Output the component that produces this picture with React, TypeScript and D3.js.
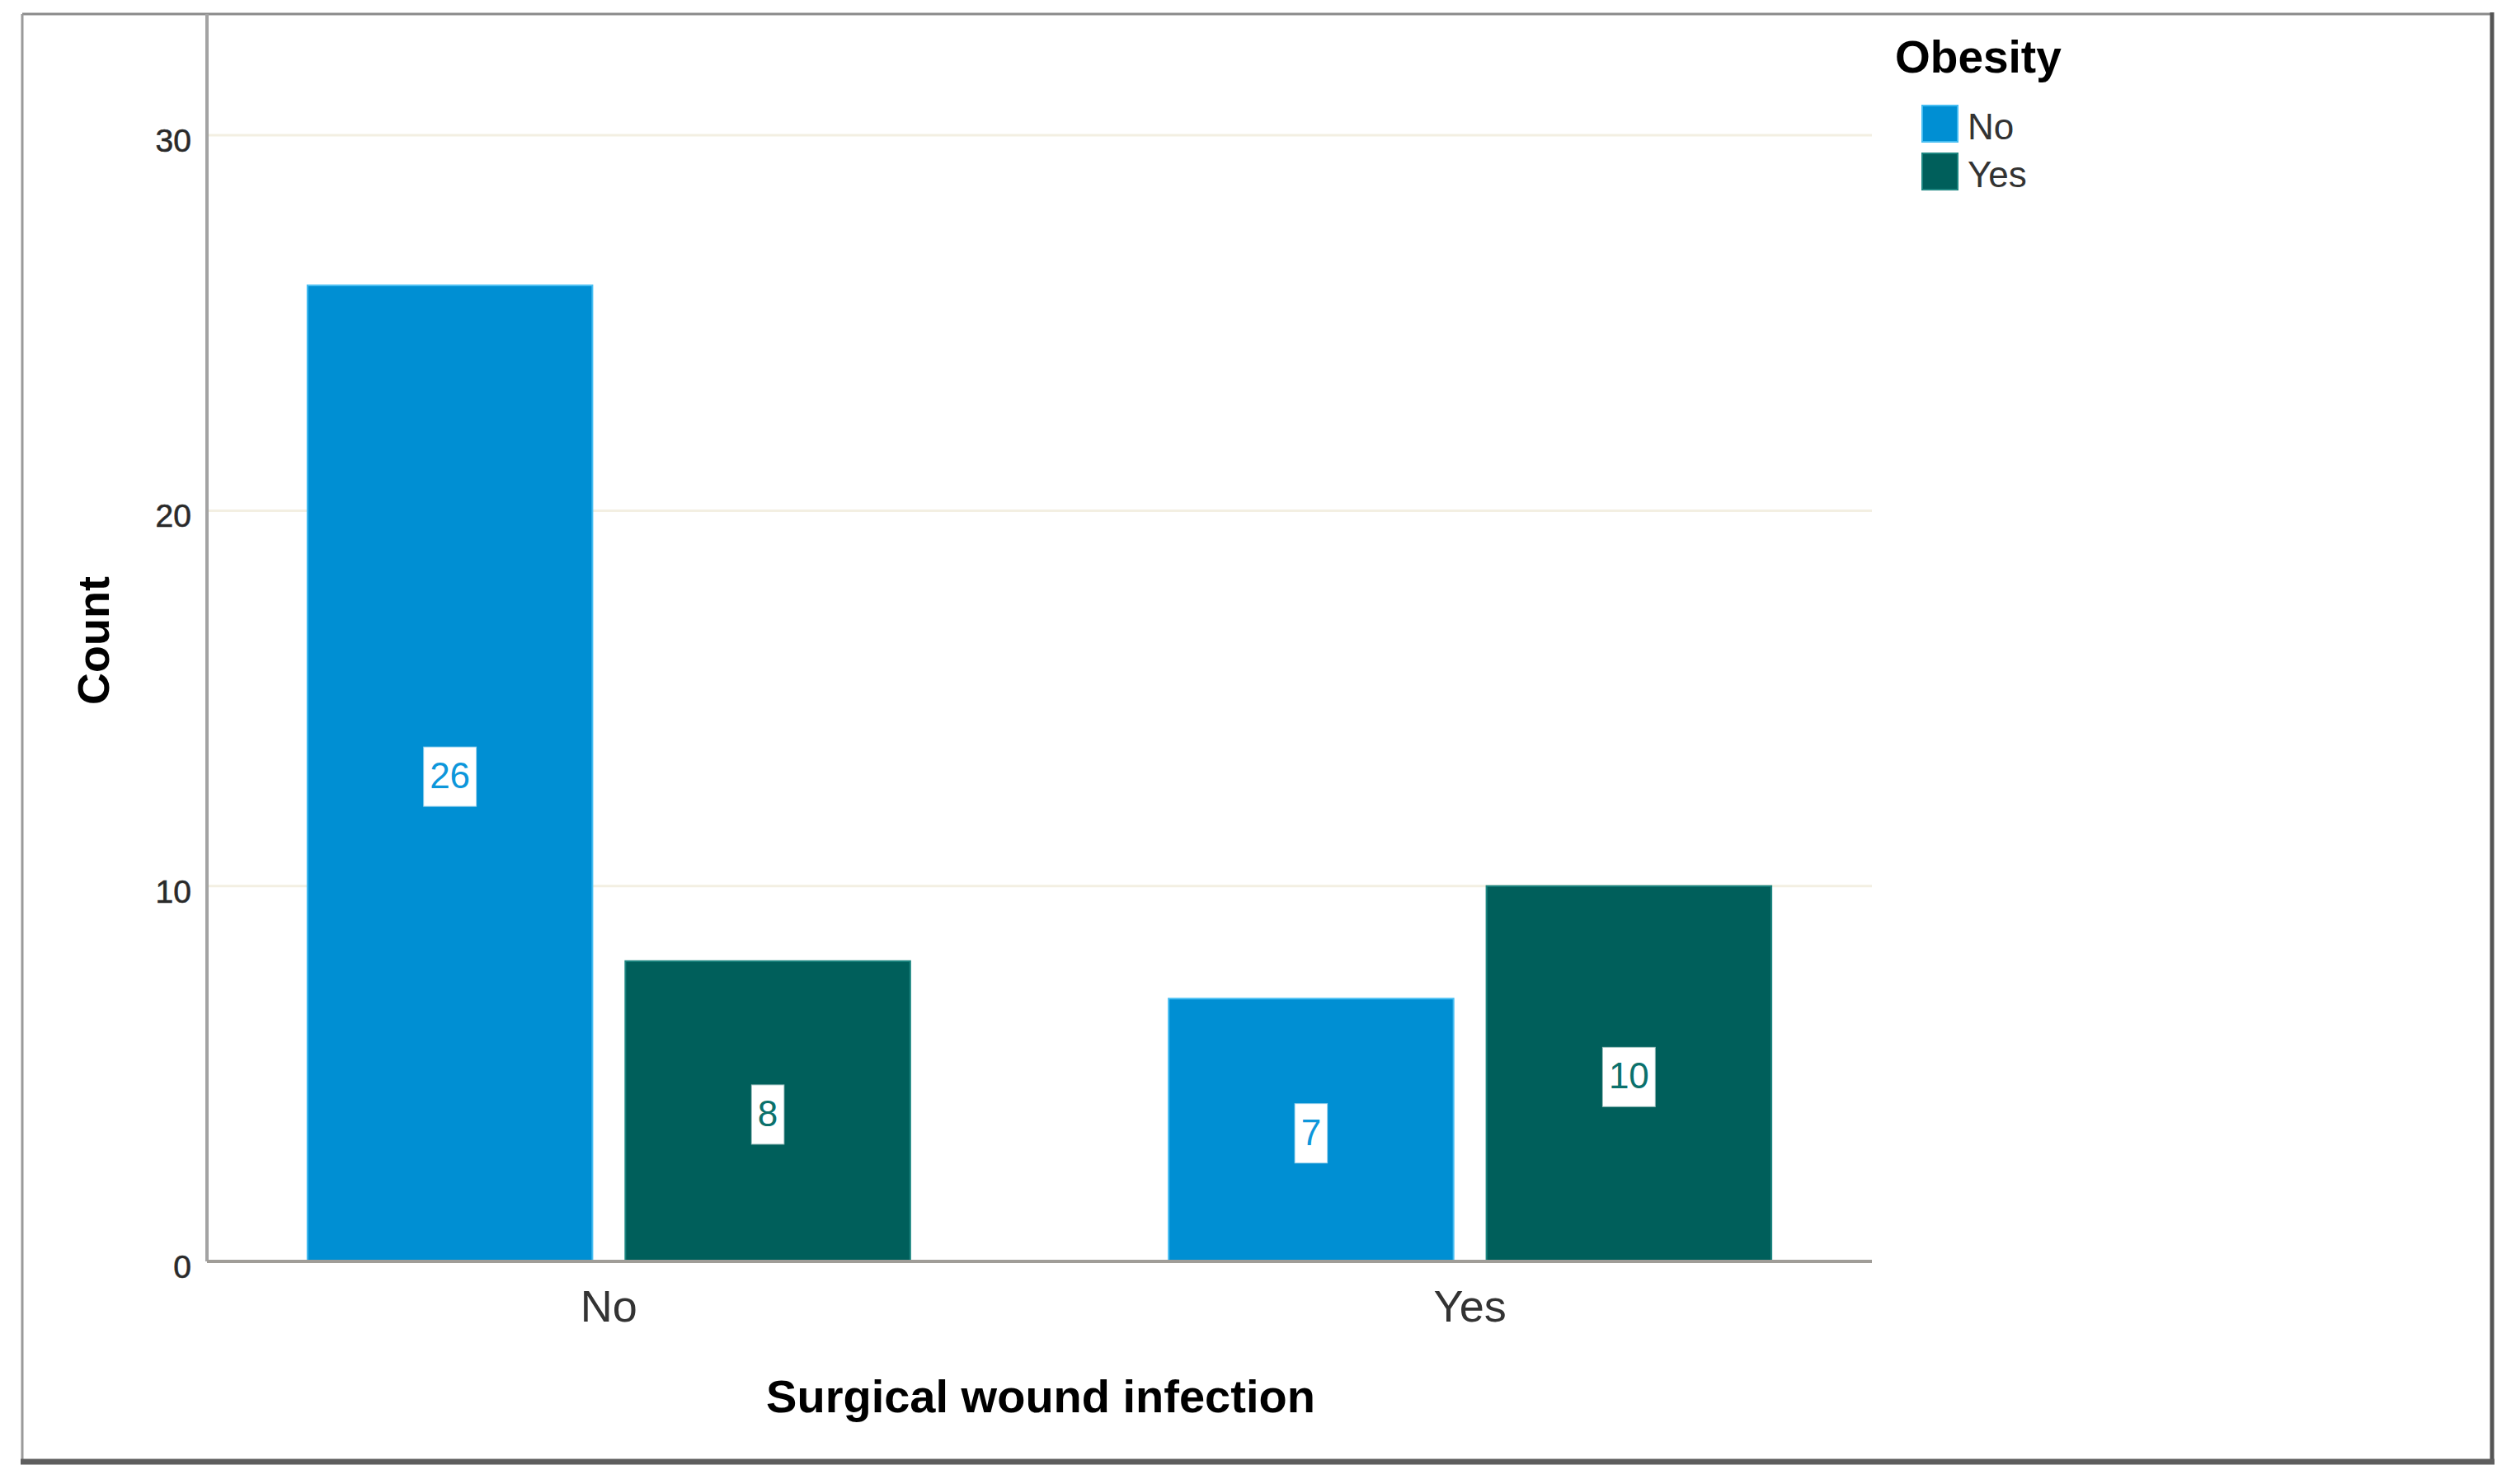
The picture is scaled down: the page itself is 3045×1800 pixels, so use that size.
import { useEffect, useRef } from "react";
import * as d3 from "d3";

// Surgical wound infection (x categories), split by Obesity
const categories = ["No", "Yes"];
const obesityGroups = ["No", "Yes"];
const countObesityNo = [26, 7];
const countObesityYes = [8, 10];
const yTicks = [0, 10, 20, 30];

const W = 3045;
const H = 1800;
const FONT = "'Liberation Sans', Arial, sans-serif";

const fillColors = ["#008fd3", "#005f5b"];
const edgeColors = ["#45bdf2", "#1d8681"];
const labelColors = ["#0d97db", "#0b716c"];

function App() {
  const gy = useRef<SVGGElement>(null);
  const gx = useRef<SVGGElement>(null);

  const plotLeft = 251;
  const plotRight = 2270;
  const plotTop = 17;
  const plotBottom = 1530;

  const y = d3.scaleLinear().domain([0, 33.23]).range([plotBottom, plotTop]);
  const x0 = d3
    .scaleBand<string>()
    .domain(categories)
    .range([plotLeft, plotRight])
    .paddingInner(0.3)
    .paddingOuter(0.1167);
  const x1 = d3
    .scaleBand<string>()
    .domain(obesityGroups)
    .range([0, x0.bandwidth()])
    .paddingInner(0.1036)
    .paddingOuter(0);

  const series = [countObesityNo, countObesityYes];
  const bars = categories.flatMap((cat, ci) =>
    obesityGroups.map((g, gi) => ({ cat, g, gi, value: series[gi][ci] }))
  );

  useEffect(() => {
    const ya = d3.select(gy.current);
    ya.call(d3.axisLeft(y).tickValues(yTicks).tickSize(0).tickPadding(19));
    ya.select(".domain").remove();
    ya.selectAll("text")
      .attr("font-family", FONT)
      .attr("font-size", 39)
      .attr("fill", "#2a2a2a")
      .attr("stroke", "#2a2a2a")
      .attr("stroke-width", 0.6)
      .attr("dy", "0.5em");

    const xa = d3.select(gx.current);
    xa.call(d3.axisBottom(x0).tickSize(0).tickPadding(35));
    xa.select(".domain").remove();
    xa.selectAll("text")
      .attr("font-family", FONT)
      .attr("font-size", 54)
      .attr("fill", "#333");
  }, []);

  const labelFont = 44;

  return (
    <svg
      width={W}
      height={H}
      style={{ position: "absolute", left: 0, top: 0, background: "#fff" }}
    >
      <rect x={0} y={0} width={W} height={H} fill="#fff" />

      {/* frame */}
      <line x1={27} y1={17} x2={3022} y2={17} stroke="#8a8a8a" strokeWidth={3} />
      <line x1={27} y1={17} x2={27} y2={1773} stroke="#9a9a9a" strokeWidth={3} />
      <line x1={3022} y1={15} x2={3022} y2={1776} stroke="#555" strokeWidth={5} />
      <line x1={25} y1={1773} x2={3025} y2={1773} stroke="#5e5e5e" strokeWidth={7} />

      {/* gridlines */}
      {yTicks
        .filter((t) => t > 0)
        .map((t) => (
          <line
            key={t}
            x1={plotLeft}
            x2={plotRight}
            y1={y(t)}
            y2={y(t)}
            stroke="#f3efe2"
            strokeWidth={3}
          />
        ))}

      {/* bars */}
      {bars.map((b) => (
        <rect
          key={b.cat + b.g}
          x={x0(b.cat)! + x1(b.g)!}
          y={y(b.value)}
          width={x1.bandwidth()}
          height={y(0) - y(b.value)}
          fill={fillColors[b.gi]}
          stroke={edgeColors[b.gi]}
          strokeWidth={2}
        />
      ))}

      {/* axes lines */}
      <line x1={plotLeft} x2={plotLeft} y1={plotTop} y2={plotBottom} stroke="#a3a3a3" strokeWidth={4} />
      <line x1={plotLeft} x2={plotRight} y1={plotBottom} y2={plotBottom} stroke="#a09d98" strokeWidth={4} />

      {/* data labels */}
      {bars.map((b) => {
        const cx = x0(b.cat)! + x1(b.g)! + x1.bandwidth() / 2;
        const cy = (y(b.value) + y(0)) / 2 + 4;
        const txt = String(b.value);
        const bw = txt.length * 0.556 * labelFont + 14;
        const bh = 71;
        return (
          <g key={"lbl" + b.cat + b.g}>
            <rect
              x={cx - bw / 2}
              y={cy - bh / 2}
              width={bw}
              height={bh}
              fill="#fff"
              stroke="#fff"
              strokeOpacity={0.6}
              strokeWidth={2}
            />
            <text
              x={cx}
              y={cy + 14}
              textAnchor="middle"
              fontFamily={FONT}
              fontSize={labelFont}
              fill={labelColors[b.gi]}
            >
              {txt}
            </text>
          </g>
        );
      })}

      <g ref={gy} transform={`translate(${plotLeft},0)`} />
      <g ref={gx} transform={`translate(0,${plotBottom})`} />

      {/* axis titles */}
      <text
        transform="translate(132,777) rotate(-90)"
        textAnchor="middle"
        fontFamily={FONT}
        fontWeight="bold"
        fontSize={54}
        fill="#000"
      >
        Count
      </text>
      <text
        x={1262}
        y={1713}
        textAnchor="middle"
        fontFamily={FONT}
        fontWeight="bold"
        fontSize={56}
        fill="#000"
      >
        Surgical wound infection
      </text>

      {/* legend */}
      <text x={2298} y={88} fontFamily={FONT} fontWeight="bold" fontSize={55} fill="#000">
        Obesity
      </text>
      {obesityGroups.map((g, i) => (
        <g key={"leg" + g} transform={`translate(2331,${128 + i * 58})`}>
          <rect width={43} height={44} fill={fillColors[i]} stroke={edgeColors[i]} strokeWidth={2} />
          <text x={55} y={41} fontFamily={FONT} fontSize={44} fill="#333">
            {g}
          </text>
        </g>
      ))}
    </svg>
  );
}

export default App;
